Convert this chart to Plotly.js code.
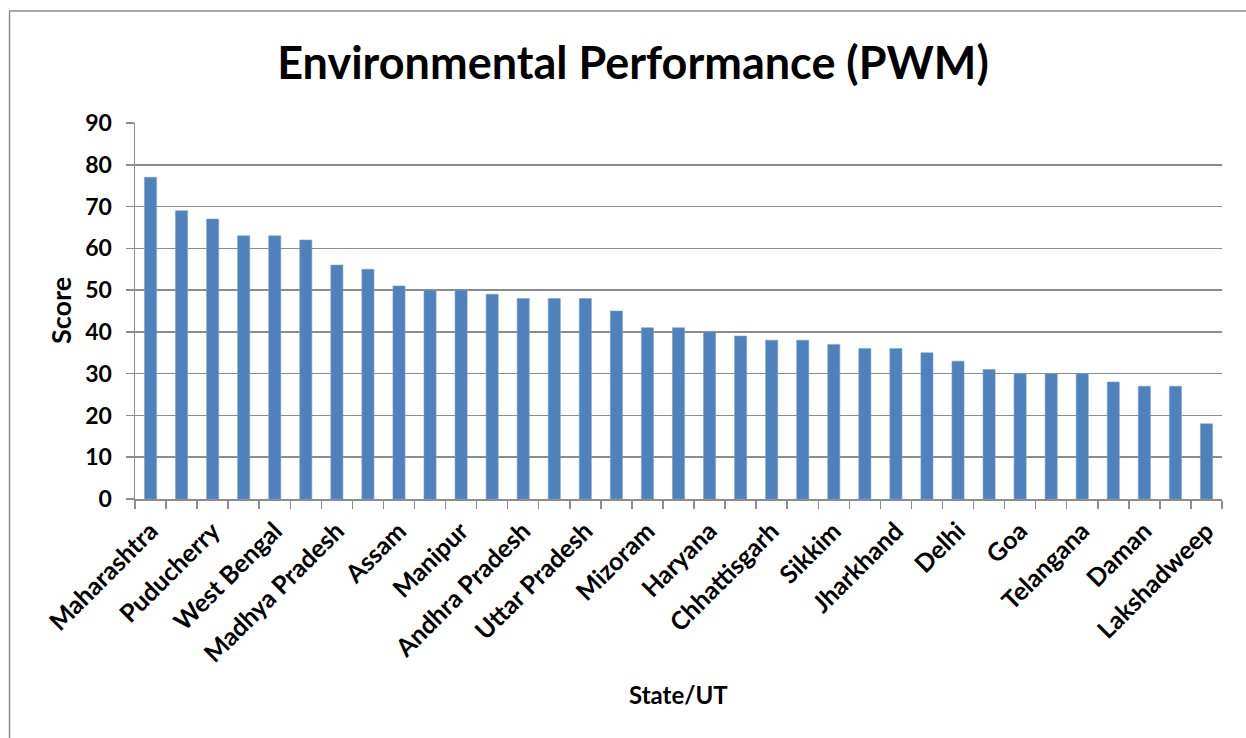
<!DOCTYPE html>
<html>
<head>
<meta charset="utf-8">
<script src="https://cdn.plot.ly/plotly-3.0.1.min.js"></script>
<style>html,body{margin:0;padding:0;background:#fff;}#chart{width:1246px;height:738px;}</style>
</head>
<body>
<div id="chart"></div>
<script>
// Visible category labels (every other bar is labelled in the source; unlabelled bars are "")
const labels = ["Maharashtra","","Puducherry","","West Bengal","","Madhya Pradesh","","Assam","","Manipur","","Andhra Pradesh","","Uttar Pradesh","","Mizoram","","Haryana","","Chhattisgarh","","Sikkim","","Jharkhand","","Delhi","","Goa","","Telangana","","Daman","","Lakshadweep"];
const scores = [77,69,67,63,63,62,56,55,51,50,50,49,48,48,48,45,41,41,40,39,38,38,37,36,36,35,33,31,30,30,30,28,27,27,18];
const yTicks = [0,10,20,30,40,50,60,70,80,90];

const idx = scores.map((_, i) => i);
const shownVals = idx.filter(i => labels[i] !== "");
const shownText = shownVals.map(i => labels[i]);
const boundaries = [];
for (let i = 0; i <= scores.length; i++) boundaries.push(i - 0.5);

const font = "Lato, 'Open Sans', sans-serif";
const grid = "#8c8c8c";

const trace = {
  type: "bar",
  x: idx,
  y: scores,
  marker: {color: "#4F81BD", line: {color: "#7a9fd0", width: 0.6}},
  hoverinfo: "y"
};

const layout = {
  width: 1246, height: 738,
  margin: {l: 135, r: 23.5, t: 123, b: 239},
  paper_bgcolor: "#fff", plot_bgcolor: "#fff",
  bargap: 0.61,
  showlegend: false,
  title: {text: "Environmental Performance (PWM)", x: 0.508, xanchor: "center", y: 1 - 63/738, yanchor: "middle",
          font: {family: font, size: 45, weight: "bold", color: "#000"}},
  xaxis: {
    range: [-0.5, scores.length - 0.5],
    tickmode: "array", tickvals: shownVals, ticktext: shownText,
    tickangle: -45, ticks: "", ticklen: 0,
    tickfont: {family: font, size: 25, weight: "bold", color: "#000"},
    ticklabelstandoff: 6,
    showgrid: false, zeroline: false,
    showline: true, linecolor: grid, linewidth: 1.5,
    minor: {tickmode: "array", tickvals: boundaries, ticks: "outside", ticklen: 8, tickcolor: grid, tickwidth: 1.5, showgrid: false},
    automargin: false,
    fixedrange: true
  },
  yaxis: {
    range: [0, 90],
    tickmode: "array", tickvals: yTicks,
    ticks: "outside", ticklen: 8, tickcolor: grid, tickwidth: 1.5,
    tickfont: {family: font, size: 23, weight: "bold", color: "#000"},
    showgrid: true, gridcolor: grid, gridwidth: 1.5,
    zeroline: false,
    showline: true, linecolor: grid, linewidth: 1.5,
    ticklabelstandoff: 9,
    automargin: false,
    fixedrange: true
  },
  annotations: [
    {text: "State/UT", xref: "paper", yref: "paper", x: 0.5, y: (499-694)/376, xanchor: "center", yanchor: "middle",
     showarrow: false, font: {family: font, size: 24, weight: "bold", color: "#000"}},
    {text: "Score", xref: "paper", yref: "paper", x: (60-135)/1087.5, y: 0.5, xanchor: "center", yanchor: "middle",
     textangle: -90, showarrow: false, font: {family: font, size: 27, weight: "bold", color: "#000"}}
  ],
  shapes: [
    {type: "rect", xref: "paper", yref: "paper",
     x0: (9.5-135)/1087.5, x1: (1260-135)/1087.5, y0: (499-760)/376, y1: (499-11)/376,
     line: {color: "#8c8c8c", width: 1.5}, fillcolor: "rgba(0,0,0,0)", layer: "below"}
  ]
};

Plotly.newPlot("chart", [trace], layout, {displayModeBar: false, staticPlot: true});
</script>
</body>
</html>
